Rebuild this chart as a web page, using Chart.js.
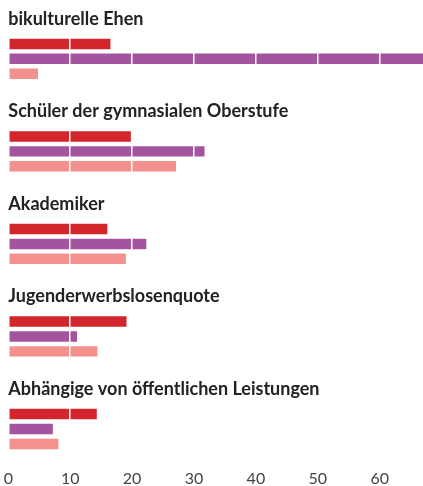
<!DOCTYPE html>
<html lang="de">
<head>
<meta charset="UTF-8">
<title>Gruppen im Vergleich</title>
<script src="https://cdn.jsdelivr.net/npm/chart.js"></script>
<style>
  html, body { margin: 0; padding: 0; background: #fff; overflow: hidden; }
  .chart-box { position: relative; width: 423px; height: 486px; }
</style>
</head>
<body>
<div class="chart-box">
  <canvas id="groupChart"></canvas>
</div>
<script>
const groups = [
  'bikulturelle Ehen',
  'Schüler der gymnasialen Oberstufe',
  'Akademiker',
  'Jugenderwerbslosenquote',
  'Abhängige von öffentlichen Leistungen'
];
const redValues = [16.5, 19.8, 16.0, 19.1, 14.3];
const purpleValues = [69, 31.7, 22.3, 11.1, 7.2];
const pinkValues = [4.8, 27.1, 19.0, 14.4, 8.1];
const xTicks = [0, 10, 20, 30, 40, 50, 60];

const ctx = document.getElementById('groupChart').getContext('2d');
const groupChart = new Chart(ctx, {
  type: 'bar',
  data: {
    labels: groups,
    datasets: [
      { data: redValues, backgroundColor: '#d3262c' },
      { data: purpleValues, backgroundColor: '#a3549f' },
      { data: pinkValues, backgroundColor: '#f4918d' }
    ]
  },
  options: {
    indexAxis: 'y',
    responsive: true,
    maintainAspectRatio: false,
    animation: false,
    categoryPercentage: 0.485,
    barPercentage: 0.7,
    layout: { padding: { left: 8.3, right: 0, top: 12.6, bottom: 9.6 } },
    plugins: { legend: { display: false }, tooltip: { enabled: false } },
    scales: {
      x: {
        min: 0,
        max: 67,
        // white gridlines sit on top of the bars
        grid: { color: '#ffffff', lineWidth: 1.5, z: 1, drawTicks: false },
        border: { display: false },
        afterBuildTicks: (scale) => {
          scale.ticks = xTicks.map(v => ({ value: v }));
        },
        afterFit: (scale) => {
          scale.paddingLeft = 0;
          scale.paddingRight = 0;
        },
        ticks: {
          z: 2,
          mirror: true,
          padding: -13,
          color: '#444',
          font: { family: 'Lato', size: 16, weight: 400 }
        }
      },
      y: {
        grid: { display: false, drawTicks: false },
        border: { display: false },
        ticks: {
          z: 2,
          mirror: true,
          padding: 0,
          labelOffset: -40,
          color: '#222',
          font: { family: 'Lato', size: 18, weight: 700 }
        }
      }
    }
  }
});
</script>
</body>
</html>
